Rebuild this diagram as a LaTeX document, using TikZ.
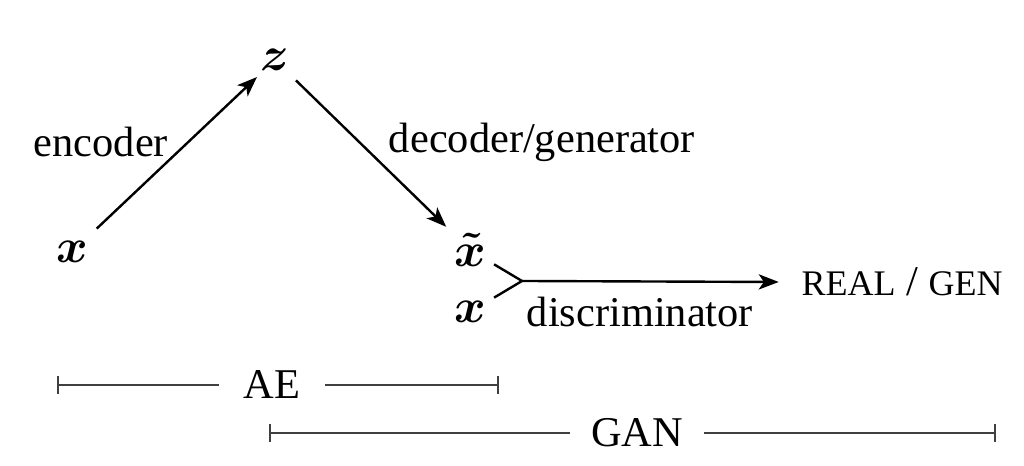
\documentclass[tikz,border=0pt]{standalone}
\usepackage{amsmath}
\usepackage{fontspec}
\setmainfont{Liberation Serif}
\usetikzlibrary{arrows.meta}
\begin{document}
\begin{tikzpicture}[x=0.25pt,y=-0.25pt,
  mathlbl/.style={inner sep=0pt,font=\fontsize{11.8}{14}\selectfont},
  txt/.style={inner sep=0pt,font=\fontsize{10.6}{12}\selectfont},
  flow/.style={line width=0.6pt,-{Stealth[length=5pt,width=3.8pt,inset=1.3pt]}},
  plain/.style={line width=0.6pt},
  barline/.style={line width=0.45pt,draw=black!75},
  barlbl/.style={inner sep=5pt,font=\fontsize{10.6}{12}\selectfont}]
\useasboundingbox (0,0) rectangle (1024,466);
% nodes
\node[mathlbl] (x) at (72,252) {$\boldsymbol{x}$};
\node[mathlbl] (z) at (275,60) {$\boldsymbol{z}$};
\node[mathlbl] (xt) at (470,250) {$\boldsymbol{\tilde{x}}$};
\node[mathlbl] (x2) at (470,312) {$\boldsymbol{x}$};
\coordinate (m) at (522,281);
\node[txt,inner sep=5.5pt] (out) at (902,282) {{\fontsize{9}{10}\selectfont REAL} / {\fontsize{9}{10}\selectfont GEN}};
% labels
\node[txt] (enc) at (101,142) {encoder};
\node[txt] (dec) at (542,142) {decoder/generator};
\node[txt] (dis) at (640,312) {discriminator};
% connectors
\draw[flow,shorten <=8.5pt,shorten >=6.2pt] (x.center) -- (z.center);
\draw[flow,shorten <=7.3pt,shorten >=8.3pt] (z.center) -- (xt.center);
\draw[plain,shorten <=7pt] (xt.center) -- (m);
\draw[plain,shorten <=7pt] (x2.center) -- (m);
\draw[flow] (m) -- (out.west);
% bars
\coordinate (ae1) at (57,385);
\coordinate (ae2) at (499,385);
\node[barlbl,inner sep=6pt] (ae) at (272,385) {AE};
\draw[barline,{Bar[width=4.3pt]}-] (ae1) -- (ae.west);
\draw[barline,-{Bar[width=4.3pt]}] (ae.east) -- (ae2);
\coordinate (gan1) at (269,433);
\coordinate (gan2) at (996,433);
\node[barlbl] (gan) at (637,433) {GAN};
\draw[barline,{Bar[width=4.3pt]}-] (gan1) -- (gan.west);
\draw[barline,-{Bar[width=4.3pt]}] (gan.east) -- (gan2);
\end{tikzpicture}
\end{document}
